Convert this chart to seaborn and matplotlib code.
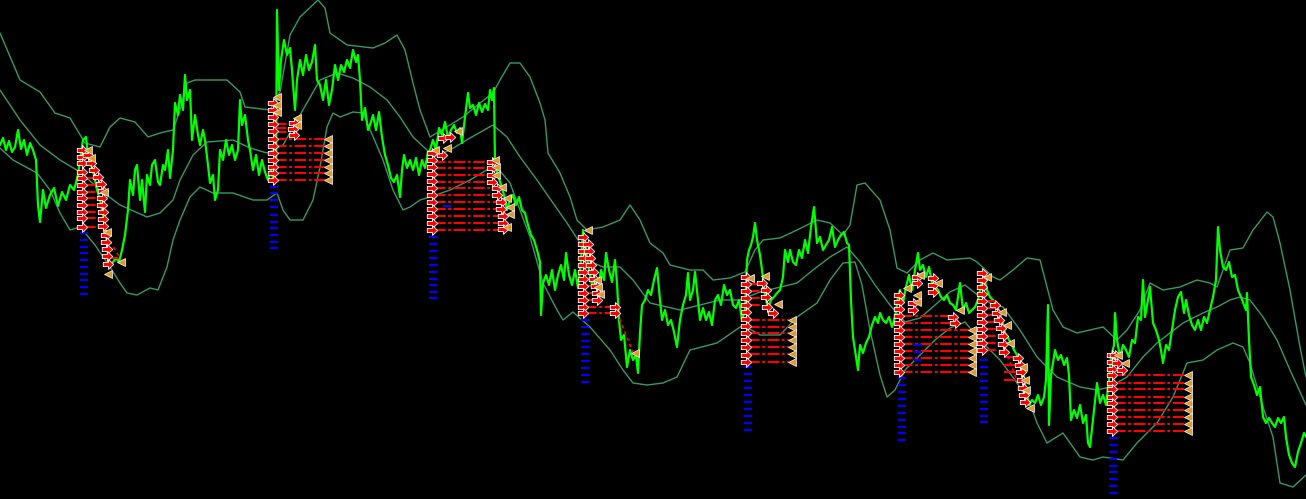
import numpy as np
import matplotlib
matplotlib.use("Agg")
import matplotlib.pyplot as plt
import seaborn as sns
from matplotlib.path import Path

price_x = [0, 3, 6, 9, 12, 15, 18, 21, 24, 27, 30, 33, 36, 38, 40, 43, 46, 50, 54, 58, 62, 66, 70, 74, 78,
           80, 83, 86, 88, 91, 94, 97, 100, 103, 106, 108, 110, 113, 116, 119, 122, 125, 128, 130,
           133, 135, 137, 140, 142, 145, 147, 150, 152, 155, 158, 160, 163, 165, 168, 170, 173,
           175, 178, 180, 183, 185, 187, 190, 192, 195, 198, 200,
           203, 205, 208, 210, 213, 215, 218, 220, 223, 226, 229, 232, 235, 238, 240,
           242, 245, 248, 250, 253, 256, 259, 262, 265, 268, 271, 274,
           276, 277, 279, 281, 284, 287, 290, 292, 295, 297, 300, 303, 306, 309, 312, 315, 317, 320, 323, 326, 329,
           332, 335, 338, 341, 344, 347, 350, 353, 356, 358,
           360, 362, 365, 368, 370, 373, 376, 379, 382, 385, 388, 391, 394, 397, 400,
           402, 404, 407, 410, 413, 416, 419, 422, 425, 428, 430,
           433, 436, 439, 442, 445, 448, 451, 454, 457, 460, 462, 465, 468, 470, 473, 476, 479, 482, 485, 488, 490, 492, 494,
           495, 498, 501, 504, 507, 510, 513, 516, 519, 522, 525, 528, 531, 534, 537, 540, 541, 543, 546, 549, 552, 555,
           558, 561, 564, 566, 569, 572, 575, 578,
           581, 583, 586, 589, 592, 595, 598, 601, 604, 606, 609, 612, 615, 617,
           619, 621, 624, 627, 630, 633, 636, 638, 640, 642, 645, 648,
           651, 654, 657, 660, 662, 665, 668, 671, 674, 677, 680, 683, 686, 688, 690, 693, 695, 698, 700,
           703, 706, 709, 712, 715, 718, 721, 724, 727, 730, 733, 736, 739, 742, 745,
           747, 749, 751, 753, 755, 757, 760, 762, 765, 768, 771, 774, 777, 780, 783, 785, 788, 790, 793, 796, 799,
           802, 805, 808, 811, 814, 817, 820, 823, 826, 829, 832, 835, 838, 841, 844, 847, 849,
           851, 853, 855, 857, 858, 860, 863, 866, 869, 872, 875, 878, 880, 883, 886, 889, 892, 895, 898,
           900, 903, 906, 909, 912, 915, 918, 920, 923, 926, 929, 932, 935, 938, 941, 944, 947, 950, 953, 956,
           958, 960, 963, 966, 969,
           972, 975, 978, 981, 984, 987, 990, 993, 996, 999, 1002, 1005, 1008, 1011, 1014, 1017, 1020, 1023,
           1026, 1029, 1032, 1035, 1038, 1041, 1044, 1046, 1048, 1049, 1051,
           1053, 1055, 1058, 1061, 1064, 1067, 1069, 1071, 1074, 1077, 1080, 1083, 1086, 1088, 1090, 1093,
           1095, 1097, 1100, 1103, 1106, 1109,
           1111, 1114, 1115, 1117, 1120, 1123, 1126, 1129, 1132, 1135, 1138, 1141, 1143, 1145, 1148, 1150,
           1153, 1156, 1159,
           1161, 1163, 1166, 1169, 1172, 1175, 1178, 1181, 1184, 1186, 1189, 1192, 1195, 1198, 1201, 1204,
           1207, 1210, 1213,
           1216, 1218, 1220, 1223, 1226, 1229, 1232, 1235, 1238, 1241, 1244, 1246, 1247, 1249,
           1251, 1254, 1257, 1260, 1263, 1266, 1269, 1272, 1275, 1278, 1281, 1284, 1286, 1289, 1292, 1295,
           1298, 1301, 1304, 1306]
price_y = [145, 138, 150, 141, 152, 147, 130, 149, 140, 155, 143, 150, 160, 205, 222, 190, 208, 195, 188, 206, 192, 200, 185, 190, 175,
           160, 140, 137, 155, 165, 175, 190, 200, 215, 235, 255, 265, 262, 258, 262, 250, 235, 210, 180,
           195, 170, 165, 200, 180, 212, 175, 185, 165, 160, 182, 185, 165, 170, 150, 178, 150,
           103, 115, 95, 110, 75, 100, 90, 140, 115, 135, 145,
           130, 140, 165, 183, 175, 200, 190, 150, 160, 140, 155, 145, 160, 150, 100,
           125, 115, 140, 150, 170, 155, 175, 160, 172, 180, 170, 182,
           160, 10, 90, 60, 40, 55, 48, 70, 110, 80, 60, 75, 55, 70, 62, 45, 80, 85, 100, 80, 105,
           90, 65, 80, 65, 72, 60, 68, 50, 62, 55,
           80, 120, 108, 130, 125, 115, 130, 112, 137, 155, 165, 178, 182, 175, 197,
           170, 155, 168, 160, 170, 158, 175, 160, 168, 152, 150,
           140, 150, 128, 135, 122, 138, 130, 125, 133, 128, 143, 117, 93, 108, 105, 115, 103, 112, 104, 110, 90, 100, 88,
           165, 175, 185, 195, 210, 200, 195, 205, 197, 210, 213, 225, 235, 240, 250, 262, 315, 283, 275, 285, 270, 290,
           275, 265, 280, 253, 275, 285, 270, 288,
           260, 230, 250, 270, 285, 275, 288, 270, 280, 253, 270, 282, 260, 283,
           320, 340, 335, 367, 350, 360, 355, 373, 333, 305, 300, 290,
           295, 280, 268, 300, 320, 310, 325, 320, 332, 347, 320, 305, 295, 273, 300, 290, 272, 300, 320,
           308, 320, 312, 325, 300, 295, 305, 285, 295, 290, 305, 308, 300, 320, 310,
           260, 250, 245, 237, 223, 240, 255, 270, 295, 308, 300, 297, 293, 290, 277, 250, 262, 250, 262, 265, 250,
           258, 240, 253, 227, 207, 243, 237, 250, 245, 240, 227, 247, 240, 235, 232, 243, 245,
           300, 337, 350, 363, 370, 345, 353, 343, 337, 325, 317, 323, 313, 320, 323, 317, 327, 317, 297,
           290, 303, 287, 275, 290, 270, 253, 270, 265, 277, 267, 283, 287, 290, 297, 300, 295, 303, 305, 310,
           297, 283, 310, 303, 313,
           310, 307, 300, 285, 277, 290, 297, 300, 303, 312, 320, 333, 338, 343, 350, 355, 363, 372,
           390, 405, 400, 403, 395, 405, 397, 380, 305, 425, 375,
           363, 350, 360, 355, 365, 358, 375, 420, 410, 418, 405, 423, 415, 443, 447, 420,
           403, 383, 403, 395, 405, 380,
           357, 345, 313, 340, 357, 345, 350, 357, 340, 343, 317, 320, 280, 317, 300, 287,
           323, 330, 340,
           350, 363, 345, 350, 330, 310, 297, 292, 313, 300, 315, 325, 330, 320, 330, 317,
           323, 310, 297,
           280, 227, 250, 267, 270, 262, 277, 275, 290, 297, 305, 310, 293, 340,
           377, 385, 395, 387, 417, 423, 418, 423, 427, 418, 423, 417, 437, 455, 463, 467,
           452, 443, 433, 437]

upper_x = [0, 20, 40, 55, 70, 85, 100, 110, 120, 135, 148, 160, 173, 180, 187, 195, 227, 240, 245, 270,
           280, 290, 300, 318, 325, 330, 347, 373, 385, 397, 405, 413, 420, 430, 445, 463, 480, 493, 500,
           510, 520, 530, 540, 545, 548, 560, 570, 577, 587, 603, 620, 630, 640, 650, 663, 670, 690, 703,
           713, 730, 745, 755, 763, 780, 797, 817, 830, 843, 850, 857, 865, 880, 890, 897, 907, 920, 933,
           947, 970, 977, 993, 1000, 1013, 1027, 1040, 1047, 1053, 1063, 1077, 1090, 1103, 1117, 1127,
           1140, 1150, 1163, 1180, 1197, 1210, 1217, 1230, 1243, 1253, 1267, 1273, 1280, 1290, 1300, 1306]
upper_y = [33, 80, 92, 113, 118, 143, 147, 127, 118, 122, 137, 133, 130, 110, 83, 80, 80, 92, 107, 110,
           92, 35, 17, 0, 8, 33, 45, 48, 43, 35, 50, 83, 110, 137, 128, 117, 103, 93, 80,
           63, 63, 77, 103, 120, 153, 173, 197, 220, 230, 227, 220, 205, 220, 243, 253, 265, 270, 270,
           280, 278, 272, 250, 240, 238, 230, 220, 223, 235, 225, 185, 183, 200, 230, 268, 273, 260, 253,
           260, 258, 262, 277, 280, 270, 258, 260, 287, 310, 327, 333, 330, 327, 340, 330,
           310, 283, 290, 287, 280, 283, 287, 250, 248, 230, 212, 217, 243, 290, 347, 377]

mid_x = [0, 20, 40, 60, 80, 100, 120, 147, 160, 173, 180, 193, 207, 233, 250, 267, 283, 300, 320, 337,
         353, 370, 387, 400, 413, 427, 433, 450, 470, 493, 507, 520, 537, 553, 567, 580, 587, 603, 620,
         633, 650, 680, 700, 720, 740, 760, 797, 813, 830, 847, 860, 875, 890, 905, 920, 935, 950, 965,
         975, 990, 1003, 1020, 1037, 1057, 1080, 1097, 1110, 1127, 1143, 1157, 1170, 1183, 1203, 1217,
         1230, 1240, 1250, 1263, 1277, 1290, 1306]
mid_y = [90, 120, 145, 160, 172, 190, 205, 217, 213, 200, 180, 155, 142, 140, 148, 153, 145, 115, 80, 73,
         78, 87, 100, 117, 137, 150, 157, 150, 138, 125, 137, 157, 180, 203, 223, 243, 260, 267, 267,
         280, 303, 310, 305, 300, 300, 292, 283, 270, 257, 247, 262, 285, 305, 322, 318, 305, 292, 285,
         293, 303, 307, 330, 357, 377, 387, 390, 387, 377, 357, 343, 333, 323, 313, 307,
         300, 297, 300, 317, 340, 370, 405]

lower_x = [0, 13, 37, 50, 60, 70, 80, 95, 110, 120, 127, 137, 150, 158, 167, 173, 180, 190, 200, 213,
           233, 253, 267, 277, 283, 290, 303, 313, 320, 327, 333, 340, 353, 363, 383, 393, 403, 410, 420,
           430, 450, 470, 495, 510, 530, 543, 557, 563, 573, 590, 610, 623, 633, 647, 663, 677, 690, 717,
           743, 760, 780, 797, 817, 830, 843, 855, 862, 870, 880, 887, 895, 905, 920, 935, 950, 965, 980,
           1000, 1015, 1030, 1037, 1047, 1063, 1080, 1093, 1103, 1123, 1137, 1157, 1173, 1187, 1203, 1217,
           1233, 1243, 1250, 1263, 1273, 1280, 1293, 1306]
lower_y = [148, 160, 173, 190, 213, 230, 227, 245, 267, 283, 293, 295, 288, 290, 267, 240, 220, 197, 187, 193,
           193, 200, 200, 193, 210, 220, 220, 200, 167, 127, 113, 117, 112, 113, 160, 190, 210, 207, 200,
           197, 190, 180, 165, 183, 237, 283, 310, 320, 312, 327, 350, 370, 383, 385, 383, 377, 350, 343,
           325, 335, 335, 317, 303, 280, 263, 262, 285, 330, 375, 397, 390, 370, 355, 340, 328, 322, 340,
           360, 380, 403, 423, 443, 433, 457, 460, 457, 460, 443, 423, 397, 363, 360, 350,
           343, 347, 363, 407, 437, 483, 487, 475]

# signal columns (red arrows, one stack per signal)
column_x = [82, 273, 432, 583, 746, 899, 982, 1112]
column_levels = [
    [150, 157, 163, 172, 178, 185, 192, 198, 205, 212, 218, 227],
    [103, 110, 117, 124, 131, 139, 146, 153, 160, 167, 173, 180],
    [153, 160, 167, 174, 181, 188, 195, 202, 209, 216, 223, 230],
    [237, 244, 251, 258, 265, 272, 279, 286, 293, 300, 307, 313],
    [277, 284, 291, 298, 305, 312, 319, 326, 333, 340, 347, 355, 362],
    [295, 302, 309, 316, 323, 330, 337, 344, 351, 358, 365, 372],
    [273, 280, 287, 294, 301, 308, 315, 322, 329, 336, 343, 350],
    [355, 362, 369, 375, 383, 389, 397, 403, 410, 417, 424, 431],
]

# follow-up arrows near price
extra_arrow_x = [88, 91, 94, 98, 101, 103, 102, 102, 103, 103, 103, 106, 106, 107, 107, 108,
                 294, 293, 294,
                 443, 450, 442, 492, 492, 492, 492, 497, 497, 501, 501, 503, 503, 503,
                 588, 589, 590, 591, 593, 594, 596, 597, 597, 615, 615,
                 762, 766, 766, 767, 773,
                 913, 913, 917, 917, 933, 933, 933, 953, 955,
                 995, 997, 999, 1001, 1003, 1003, 1004, 1018, 1020, 1021, 1022, 1023, 1024, 1025,
                 1115, 1117, 1122]
extra_arrow_y = [155, 163, 170, 177, 184, 191, 198, 205, 212, 219, 226, 235, 242, 249, 256, 264,
                 123, 129, 135,
                 138, 137, 155, 162, 168, 175, 182, 188, 195, 202, 209, 216, 223, 229,
                 244, 251, 258, 265, 272, 279, 286, 293, 300, 307, 313,
                 283, 290, 297, 307, 313,
                 303, 310, 277, 283, 278, 285, 292, 317, 323,
                 305, 313, 320, 328, 336, 344, 352, 358, 365, 372, 380, 388, 395, 402,
                 355, 363, 370]

# orange targets
target_x = [88, 91, 104, 107, 121, 108,
            277, 277, 277, 297, 297, 328, 328, 328, 328, 328, 328, 328,
            435, 447, 458, 495, 496, 496, 502, 507, 510, 510, 507,
            588, 597, 598, 600, 635,
            750, 765, 778, 792, 792, 792, 792, 792, 792, 792,
            907, 917, 917, 920, 938, 960, 972, 972, 972, 972, 972, 972, 972,
            987, 1002, 1007, 1010, 1023, 1025, 1026, 1030,
            1118, 1125, 1188, 1188, 1188, 1188, 1188, 1188, 1188, 1188, 1188]
target_y = [150, 158, 192, 232, 262, 274,
            97, 105, 112, 118, 125, 139, 146, 153, 160, 167, 173, 180,
            150, 148, 131, 160, 167, 175, 187, 198, 207, 214, 227,
            230, 280, 287, 294, 353,
            278, 276, 304, 320, 327, 333, 340, 347, 354, 362,
            288, 295, 302, 275, 283, 310, 330, 337, 344, 351, 358, 365, 372,
            277, 312, 325, 343, 367, 380, 390, 408,
            355, 363, 375, 383, 389, 397, 403, 410, 417, 424, 431]

# dash-dot order levels
level_y = [178, 185, 192, 198, 205, 212, 218, 227, 258,
           139, 146, 153, 160, 167, 173, 180, 124, 128, 132,
           162, 168, 175, 182, 188, 195, 202, 209, 216, 223, 230,
           307, 313, 258, 265, 272, 279, 286, 293, 300,
           320, 327, 333, 340, 347, 354, 362, 284, 291, 298, 305,
           316, 323, 330, 337, 344, 351, 358, 365, 372,
           301, 308, 315, 322, 329, 336, 343, 350, 357, 365, 372, 380,
           375, 383, 389, 397, 403, 410, 417, 424, 431]
level_x0 = [84] * 8 + [107] + [275] * 10 + [434] * 11 + [585] * 9 + [748] * 11 + [901] * 9 + \
           [984] * 8 + [1004] * 4 + [1114] * 9
level_x1 = [102] * 8 + [120] + [326] * 7 + [290] * 3 + [490] * 4 + [495] * 2 + [501] * 5 + \
           [612] * 2 + [592] * 7 + [789] * 7 + [762] * 4 + [950] * 2 + [969] * 7 + \
           [998] * 8 + [1018] * 4 + [1185] * 9

# dotted trail lines
trail_x0 = [103, 617, 1005]
trail_y0 = [230, 313, 350]
trail_x1 = [120, 633, 1027]
trail_y1 = [258, 352, 405]

# blue stops under each column
stop_x = [84, 274, 433, 585, 748, 902, 984, 1113]
stop_levels = [
    [233, 240, 247, 253, 260, 267, 274, 280, 287, 294],
    [187, 193, 200, 207, 215, 222, 228, 235, 242, 248],
    [237, 244, 251, 258, 265, 272, 279, 285, 292, 298],
    [320, 327, 334, 341, 347, 354, 361, 368, 375, 382],
    [367, 374, 381, 388, 395, 402, 409, 416, 423, 430],
    [378, 385, 392, 399, 406, 413, 420, 427, 433, 440],
    [360, 367, 374, 381, 388, 395, 402, 409, 416, 422],
    [438, 445, 452, 459, 466, 472, 479, 486, 493],
]
stray_stop_x = [447, 918, 918, 918, 746]
stray_stop_y = [206, 345, 352, 360, 357]

sns.set_style("dark", {"axes.facecolor": "black", "figure.facecolor": "black"})

fig = plt.figure(figsize=(13.06, 4.99), dpi=100)
ax = fig.add_axes([0, 0, 1, 1])
ax.set_facecolor("black")

band_col = "#349a66"
for bx, by in [(upper_x, upper_y), (mid_x, mid_y), (lower_x, lower_y)]:
    sns.lineplot(x=bx, y=by, ax=ax, color=band_col, lw=1.0, sort=False, estimator=None)

sns.lineplot(x=price_x, y=price_y, ax=ax, color="#00ff00", lw=1.6, sort=False, estimator=None)

# order levels
for y, x0, x1 in zip(level_y, level_x0, level_x1):
    ax.plot([x0, x1], [y, y], color="#ff0000", lw=1.5, ls=(0, (5.5, 1.3, 1.3, 1.3)), zorder=4)
for x0, y0, x1, y1 in zip(trail_x0, trail_y0, trail_x1, trail_y1):
    ax.plot([x0, x1], [y0, y1], color="#ff0000", lw=1.2, ls=(0, (2, 2)), zorder=4)

# blue stops
for sx, lv in zip(stop_x, stop_levels):
    ax.plot([sx] * len(lv), lv, ls="none", marker="_", ms=5.5, mew=1.6, color="#0000ff", zorder=5)
ax.plot(stray_stop_x, stray_stop_y, ls="none", marker="_", ms=5.5, mew=1.6, color="#0000ff", zorder=5)

# arrow marker
verts = [(-1, -0.4), (0.0, -0.4), (0.0, -0.95), (1, 0), (0.0, 0.95), (0.0, 0.4), (-1, 0.4), (-1, -0.4)]
codes = [Path.MOVETO] + [Path.LINETO] * 6 + [Path.CLOSEPOLY]
arrow = Path(verts, codes)

for cx, lv in zip(column_x, column_levels):
    ax.plot([cx] * len(lv), lv, ls="none", marker=arrow, ms=7.5, mfc="#ff0000", mec="white", mew=0.6, zorder=6)
ax.plot(extra_arrow_x, extra_arrow_y, ls="none", marker=arrow, ms=7.5, mfc="#ff0000", mec="white", mew=0.6, zorder=6)

ax.plot(target_x, target_y, ls="none", marker="<", ms=6, mfc="#df9a2a", mec="white", mew=0.5, zorder=7)

ax.set_xlim(0, 1306)
ax.set_ylim(499, 0)
ax.set_xticks([])
ax.set_yticks([])
for s in ax.spines.values():
    s.set_visible(False)

fig.savefig("out.png", dpi=100, facecolor="black")
plt.close(fig)
